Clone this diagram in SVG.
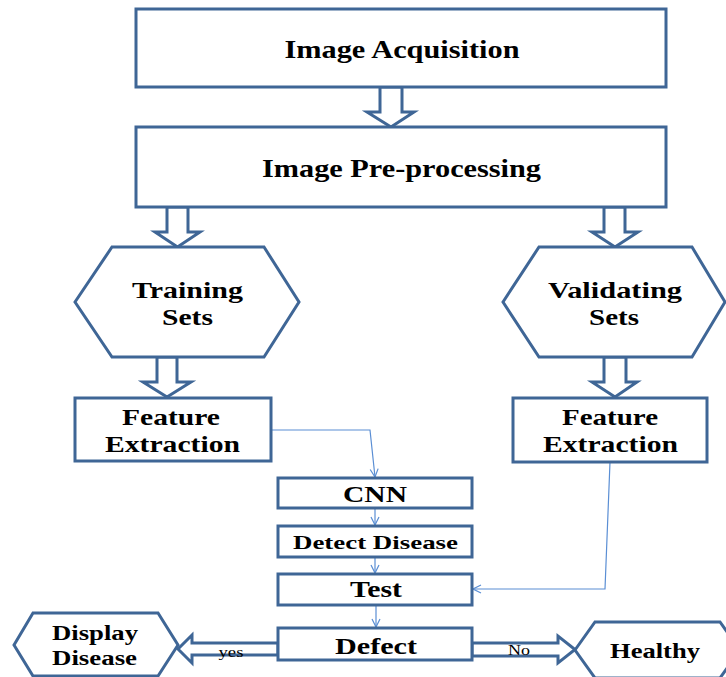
<svg xmlns="http://www.w3.org/2000/svg" width="726" height="677" viewBox="0 0 726 677">
<defs>
<style>
.box{fill:#fff;stroke:#3F6696;stroke-width:3;stroke-linejoin:miter}
.harrow{fill:#fff;stroke:#3F6696;stroke-width:3;stroke-linejoin:miter}
.thin{fill:none;stroke:#5A8ED4;stroke-width:1.2}
.t{font-family:"Liberation Serif","Times New Roman",serif;font-weight:bold;fill:#000;text-anchor:middle}
.l{font-family:"Liberation Serif","Times New Roman",serif;font-weight:normal;fill:#000;text-anchor:middle;font-size:14px}
</style>
<marker id="arr" viewBox="0 0 10 10" refX="9" refY="5" markerWidth="10" markerHeight="10" markerUnits="userSpaceOnUse" orient="auto">
<path d="M1,1 L9,5 L1,9" fill="none" stroke="#5A8ED4" stroke-width="1.2"/>
</marker>
</defs>
<rect width="726" height="677" fill="#fff"/>

<g id="connectors">
<polygon class="harrow" points="380,87 402,87 402,112 414,112 391,127 367,112 380,112"/>
<polygon class="harrow" points="167,207 188,207 188,232 200,232 177.5,247 155,232 167,232"/>
<polygon class="harrow" points="604,207 625,207 625,232 638,232 615,247 592,232 604,232"/>
<polygon class="harrow" points="157,357 177,357 177,382 191,382 167,397 143,382 157,382"/>
<polygon class="harrow" points="604,357 626,357 626,382 637,382 615,397 592,382 604,382"/>
<polygon class="harrow" points="278,643 192,643 192,635 178,649 192,663 192,655 278,655"/>
<polygon class="harrow" points="472,643 558,643 558,636 575,649.5 558,663 558,656 472,656"/>
<path class="thin" d="M271,430 L370,430 L375,477" marker-end="url(#arr)"/>
<path class="thin" d="M375,508 L375,525" marker-end="url(#arr)"/>
<path class="thin" d="M375,557 L375,573" marker-end="url(#arr)"/>
<path class="thin" d="M376,605 L376,627" marker-end="url(#arr)"/>
<path class="thin" d="M610,462 L605,589 L473,589" marker-end="url(#arr)"/>
<text class="l" x="231" y="657" textLength="25" lengthAdjust="spacingAndGlyphs">yes</text>
<text class="l" x="519" y="655" textLength="22" lengthAdjust="spacingAndGlyphs">No</text>
</g>

<g id="acquisition">
<rect class="box" x="136" y="9" width="530" height="78"/>
<text class="t" x="402" y="58" font-size="25" textLength="235" lengthAdjust="spacingAndGlyphs">Image Acquisition</text>
</g>

<g id="preprocessing">
<rect class="box" x="136" y="127" width="530" height="80"/>
<text class="t" x="401.5" y="177" font-size="25" textLength="279" lengthAdjust="spacingAndGlyphs">Image Pre-processing</text>
</g>

<g id="training">
<polygon class="box" points="75,302 112,247 264,247 299,302 264,357 112,357"/>
<text class="t" x="187.5" y="298" font-size="23" textLength="111" lengthAdjust="spacingAndGlyphs">Training</text>
<text class="t" x="187.5" y="325" font-size="23" textLength="51" lengthAdjust="spacingAndGlyphs">Sets</text>
</g>

<g id="validating">
<polygon class="box" points="503,302 539,247 692,247 725,302 692,357 539,357"/>
<text class="t" x="615" y="298" font-size="23" textLength="134" lengthAdjust="spacingAndGlyphs">Validating</text>
<text class="t" x="614" y="325" font-size="23" textLength="50" lengthAdjust="spacingAndGlyphs">Sets</text>
</g>

<g id="feature-left">
<rect class="box" x="75" y="398" width="196" height="63"/>
<text class="t" x="171" y="425" font-size="23" textLength="98" lengthAdjust="spacingAndGlyphs">Feature</text>
<text class="t" x="172.5" y="452" font-size="23" textLength="135" lengthAdjust="spacingAndGlyphs">Extraction</text>
</g>

<g id="feature-right">
<rect class="box" x="513" y="398" width="194" height="64"/>
<text class="t" x="610" y="425" font-size="23" textLength="96" lengthAdjust="spacingAndGlyphs">Feature</text>
<text class="t" x="610.5" y="452" font-size="23" textLength="135" lengthAdjust="spacingAndGlyphs">Extraction</text>
</g>

<g id="cnn">
<rect class="box" x="278" y="478" width="194" height="30"/>
<text class="t" x="375" y="502" font-size="23" textLength="64" lengthAdjust="spacingAndGlyphs">CNN</text>
</g>

<g id="detect">
<rect class="box" x="278" y="526" width="194" height="31"/>
<text class="t" x="375.5" y="549" font-size="19" textLength="165" lengthAdjust="spacingAndGlyphs">Detect Disease</text>
</g>

<g id="test">
<rect class="box" x="278" y="574" width="194" height="31"/>
<text class="t" x="376" y="597" font-size="23" textLength="52" lengthAdjust="spacingAndGlyphs">Test</text>
</g>

<g id="defect">
<rect class="box" x="278" y="628" width="194" height="32"/>
<text class="t" x="376" y="654" font-size="23" textLength="82" lengthAdjust="spacingAndGlyphs">Defect</text>
</g>

<g id="display-disease">
<polygon class="box" points="14,645 33,613 158,613 178,645 158,676 33,676"/>
<text class="t" x="95" y="640" font-size="20" textLength="86" lengthAdjust="spacingAndGlyphs">Display</text>
<text class="t" x="94.5" y="665" font-size="20" textLength="85" lengthAdjust="spacingAndGlyphs">Disease</text>
</g>

<g id="healthy">
<polygon class="box" points="575,650 595,622 720,622 740,650 720,678 595,678"/>
<text class="t" x="655" y="658" font-size="21" textLength="90" lengthAdjust="spacingAndGlyphs">Healthy</text>
</g>
</svg>
